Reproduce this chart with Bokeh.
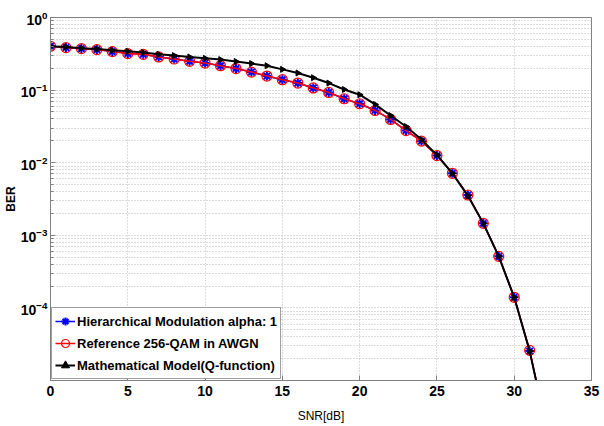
import math
from bokeh.plotting import figure
from bokeh.models import (FixedTicker, Legend, LegendItem, Range1d, LogTickFormatter)
from bokeh.embed import file_html
from bokeh.resources import INLINE

# ---- data ----
snr = list(range(0, 33))

ber_hier = [0.402, 0.385, 0.373, 0.361, 0.339, 0.318, 0.311, 0.286, 0.268, 0.249,
            0.236, 0.217, 0.198, 0.177, 0.156, 0.139, 0.125, 0.107, 0.0929, 0.0760,
            0.0649, 0.0524, 0.0394, 0.0277, 0.0198, 0.01254, 0.00714, 0.00359, 0.00146,
            5.13e-4, 1.40e-4, 2.54e-5, 2.7e-6]

ber_ref = [0.402, 0.385, 0.373, 0.361, 0.339, 0.318, 0.311, 0.286, 0.268, 0.249,
           0.236, 0.217, 0.198, 0.177, 0.156, 0.139, 0.125, 0.107, 0.0929, 0.0760,
           0.0649, 0.0524, 0.0394, 0.0277, 0.0198, 0.01254, 0.00714, 0.00359, 0.00146,
           5.13e-4, 1.40e-4, 2.60e-5, 2.7e-6]

ber_math = [0.402, 0.393, 0.377, 0.368, 0.353, 0.342, 0.329, 0.311, 0.299, 0.286,
            0.274, 0.263, 0.248, 0.232, 0.217, 0.193, 0.172, 0.148, 0.125, 0.102,
            0.0864, 0.0635, 0.0447, 0.0315, 0.0208, 0.0128, 0.00714, 0.00351, 0.00146,
            5.13e-4, 1.40e-4, 2.54e-5, 2.7e-6]

x_ticks = [0, 5, 10, 15, 20, 25, 30, 35]
y_ticks = [1e-4, 1e-3, 1e-2, 1e-1, 1e0]
y_minor = [m * 10.0 ** e for e in range(-5, 0) for m in range(2, 10)]

labels = ["Hierarchical Modulation alpha: 1",
          "Reference 256-QAM in AWGN",
          "Mathematical Model(Q-function)"]

FONT = "Liberation Sans, Arial, sans-serif"
GRID = "#b9b9b9"
AXC = "#808080"

p = figure(width=604, height=426, output_backend="svg", toolbar_location=None,
           x_range=Range1d(0, 35), y_range=Range1d(1e-5, 1), y_axis_type="log",
           min_border_left=50, min_border_right=13, min_border_top=17, min_border_bottom=46)
p.background_fill_color = "white"
p.border_fill_color = "white"
p.outline_line_color = AXC

# axes
xa = p.xaxis[0]
xa.ticker = FixedTicker(ticks=x_ticks)
xa.axis_label = "SNR[dB]"
ya = p.yaxis[0]
ya.ticker = FixedTicker(ticks=y_ticks, minor_ticks=y_minor)
ya.formatter = LogTickFormatter()
ya.axis_label = "BER"
for ax in (xa, ya):
    ax.axis_line_color = AXC
    ax.major_tick_line_color = AXC
    ax.minor_tick_line_color = AXC
    ax.major_tick_in = 5
    ax.major_tick_out = 0
    ax.minor_tick_in = 3
    ax.minor_tick_out = 0
    ax.major_label_text_font = FONT
    ax.major_label_text_font_style = "bold"
    ax.major_label_text_font_size = "14px"
    ax.major_label_text_color = "black"
    ax.axis_label_text_font = FONT
    ax.axis_label_text_font_style = "normal"
    ax.axis_label_text_font_size = "12px"
    ax.axis_label_text_color = "black"
xa.major_label_standoff = 5
xa.axis_label_standoff = 10
ya.major_label_standoff = 3
ya.axis_label_standoff = 0
ya.axis_label_text_font_style = "bold"

# grid
p.xgrid.ticker = FixedTicker(ticks=x_ticks)
p.xgrid.grid_line_color = GRID
p.xgrid.grid_line_dash = "1 2"
p.ygrid.ticker = FixedTicker(ticks=y_ticks, minor_ticks=y_minor)
p.ygrid.grid_line_color = GRID
p.ygrid.grid_line_dash = "1 2"
p.ygrid.minor_grid_line_color = GRID
p.ygrid.minor_grid_line_dash = "1 2"

# series
l1 = p.line(snr, ber_hier, line_color="blue", line_width=1.5)
m1 = p.scatter(snr, ber_hier, marker="asterisk", size=9, line_color="blue", line_width=2)
l2 = p.line(snr, ber_ref, line_color="red", line_width=1.5)
m2 = p.scatter(snr, ber_ref, marker="circle", size=10, line_color="red", fill_color=None,
               line_width=1.2)
l3 = p.line(snr, ber_math, line_color="black", line_width=2)
m3 = p.scatter(snr, ber_math, marker="triangle", size=6, angle=-math.pi / 2,
               line_color="black", fill_color="black")

legend = Legend(items=[LegendItem(label=labels[0], renderers=[l1, m1]),
                       LegendItem(label=labels[1], renderers=[l2, m2]),
                       LegendItem(label=labels[2], renderers=[l3, m3])],
                location="bottom_left")
legend.margin = 1
legend.padding = 3
legend.spacing = 2
legend.glyph_width = 20
legend.glyph_height = 20
legend.label_standoff = 2
legend.label_height = 20
legend.label_text_font = FONT
legend.label_text_font_style = "bold"
legend.label_text_font_size = "13px"
legend.label_text_color = "black"
legend.border_line_color = "#404040"
legend.border_line_width = 1
legend.background_fill_color = "white"
legend.background_fill_alpha = 1
p.add_layout(legend)

open("out.html", "w").write(file_html(p, INLINE))
